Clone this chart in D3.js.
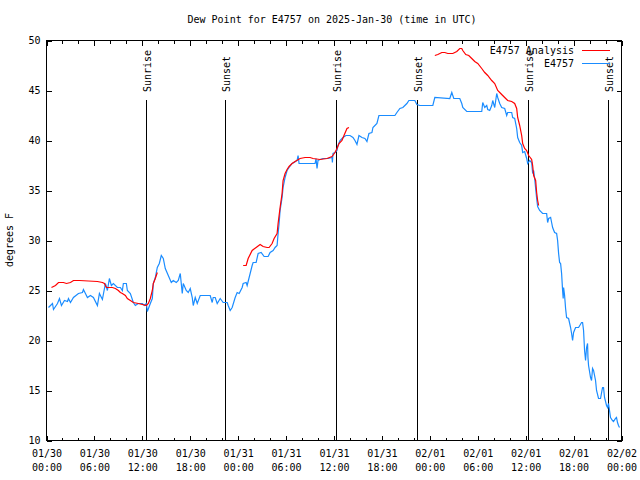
<!DOCTYPE html>
<html><head><meta charset="utf-8">
<script src="https://cdn.jsdelivr.net/npm/d3@7"></script>
<style>
body{margin:0;background:#fff;}
svg text{font-family:"DejaVu Sans Mono",monospace;font-size:10px;fill:#000;}
</style></head><body>
<svg id="c" width="640" height="480"></svg>
<script>
// ---- data (hours after 2025-01-30 00:00 UTC, dew point in °F) ----
const titleText = "Dew Point for E4757 on 2025-Jan-30 (time in UTC)";
const yLabel = "degrees F";
const seriesNames = ["E4757 Analysis", "E4757"];
const seriesColors = ["#ff0000", "#1a8cff"];

const obsHours = [0.25,0.75,0.875,1.375,1.625,1.875,2.25,2.625,2.75,3.0,3.375,4.0,4.5,4.625,4.875,5.125,5.5,5.875,6.375,6.625,7.0,7.375,7.625,7.875,8.125,8.375,8.875,9.25,9.5,9.625,10.0,10.125,10.5,10.875,11.125,11.5,12.0,12.25,12.5,12.625,13.0,13.25,13.375,13.625,13.875,14.125,14.375,14.625,14.875,15.25,15.625,15.875,16.25,16.5,16.75,17.0,17.125,17.5,17.75,18.0,18.25,18.375,18.625,18.875,19.25,19.875,20.5,20.75,20.875,21.125,21.375,21.75,22.125,22.625,22.75,23.0,23.25,23.625,23.875,24.125,24.5,24.625,25.0,25.125,25.375,25.75,25.875,26.25,26.5,26.875,27.25,27.75,28.0,28.375,28.625,28.875,29.0,29.125,29.25,29.5,29.625,29.875,30.125,30.375,30.75,31.0,31.375,31.5,31.625,32.625,33.625,33.75,33.875,34.0,34.25,34.625,35.25,35.75,35.8,35.875,36.125,36.375,36.5,36.75,37.125,37.5,38.0,38.375,38.625,38.875,39.125,39.5,39.875,40.125,40.375,40.75,40.875,41.375,41.625,42.625,43.625,43.875,44.25,44.625,45.125,45.375,46.125,46.375,46.75,48.375,48.625,50.5,50.75,51.0,51.75,52.0,52.125,52.625,54.5,54.625,54.875,55.125,55.25,55.5,55.75,55.875,56.125,56.375,56.5,56.75,57.0,57.375,57.625,57.75,58.25,58.375,58.625,58.875,59.0,59.25,59.5,59.625,59.875,60.125,60.25,60.5,60.75,60.875,61.0,61.125,61.25,61.375,61.5,61.75,62.125,62.625,62.75,62.875,63.125,63.25,63.375,63.625,63.875,64.0,64.125,64.25,64.375,64.5,64.625,64.7,64.75,64.875,65.0,65.125,65.375,65.625,65.75,65.875,66.0,66.25,66.625,67.0,67.125,67.25,67.375,67.5,67.625,67.75,67.8,67.875,68.125,68.25,68.375,68.5,68.75,68.875,69.125,69.375,69.625,69.75,69.875,70.125,70.25,70.375,70.625,70.875,71.0,71.25,71.375,71.5,71.625,71.75];
const obsDew = [23.3,23.7,23.1,23.7,24.2,23.5,24.0,23.9,24.2,23.8,24.3,24.7,24.8,25.1,24.7,24.3,24.5,24.3,23.5,24.7,24.1,25.7,25.0,26.2,25.5,25.7,25.3,25.3,25.0,25.7,25.7,25.0,24.7,23.8,23.5,23.7,23.7,23.5,23.7,22.9,23.7,24.2,25.7,26.3,27.3,27.7,28.5,28.2,27.2,26.5,25.8,26.0,25.8,26.0,26.7,24.7,25.7,25.0,24.8,25.2,24.3,23.5,24.3,23.7,24.5,24.5,24.5,23.8,24.3,24.3,23.7,24.2,23.8,23.8,23.5,23.0,23.3,24.3,24.8,24.7,25.3,25.7,25.8,25.5,26.3,27.5,27.8,27.8,28.7,28.8,28.4,28.4,28.8,29.0,29.3,29.5,30.7,31.7,33.0,34.3,35.3,36.3,37.0,37.3,37.7,37.8,38.0,38.5,37.7,37.7,37.7,38.2,37.2,38.0,38.1,38.2,38.2,38.3,37.8,38.7,38.8,39.0,39.5,40.0,40.3,40.5,40.5,40.3,40.0,39.6,40.5,40.3,40.2,39.9,40.7,40.8,41.3,41.7,42.5,42.5,42.5,42.8,43.2,43.3,43.7,44.0,44.0,43.6,43.5,43.5,44.3,44.2,44.8,44.2,44.2,43.7,43.3,42.9,42.9,43.8,43.3,43.5,43.1,43.0,43.5,44.0,43.3,44.7,44.3,43.7,43.3,43.2,42.5,42.8,42.8,42.3,42.2,41.2,40.3,39.8,39.5,38.8,38.9,38.2,37.7,38.0,37.8,36.7,37.0,36.2,35.2,34.2,33.4,33.0,32.7,32.7,31.8,32.2,32.3,31.8,31.3,30.8,30.7,30.0,28.7,27.8,27.7,26.7,25.0,24.2,25.3,24.5,23.2,22.3,22.2,21.3,20.7,20.0,20.8,21.3,21.3,21.8,21.8,21.0,19.0,18.0,19.3,19.7,18.3,17.5,16.3,16.0,17.2,17.0,16.0,15.0,14.2,14.2,15.3,15.3,14.3,13.5,13.3,13.7,12.3,12.0,11.9,12.2,12.3,11.8,11.5,11.3];

// analysis: three separate runs
const anaHours1 = [0.625,1.125,1.5,2.125,2.5,3.0,3.375,4.125,6.375,7.0,7.25,7.5,8.25,8.625,9.0,9.25,9.5,9.875,10.125,10.5,10.875,11.5,12.0,12.5,12.75,13.0,13.25,13.375,13.625,13.875];
const anaDew1   = [25.3,25.5,25.8,25.8,25.7,25.8,26.0,26.0,25.9,25.8,25.7,25.3,25.3,25.2,25.0,24.8,24.7,24.5,24.2,24.0,23.8,23.7,23.6,23.5,23.7,24.2,25.0,25.7,26.2,26.8];
const anaHours2 = [24.625,25.0,25.25,25.75,26.25,26.75,27.125,27.625,27.875,28.25,28.5,28.875,29.0,29.25,29.5,29.625,29.875,30.125,30.375,30.75,31.125,31.75,32.375,33.0,33.375,34.25,35.125,35.75,36.125,36.375,36.625,37.0,37.25,37.625,37.875];
const anaDew2   = [27.5,27.5,28.2,29.0,29.3,29.6,29.4,29.3,29.3,29.7,30.2,30.7,31.7,33.3,34.7,36.0,36.7,37.1,37.4,37.7,37.9,38.2,38.3,38.3,38.2,38.1,38.2,38.4,38.8,39.2,39.7,40.0,40.5,41.2,41.3];
const anaHours3 = [48.625,49.0,49.5,49.875,50.25,50.875,51.375,51.75,52.0,52.125,52.5,52.875,53.25,53.625,54.0,54.5,54.875,55.25,55.75,56.125,56.5,56.875,57.125,57.5,57.75,58.25,58.625,58.875,59.0,59.25,59.5,59.625,59.875,60.125,60.375,60.75,60.875,61.0,61.25,61.375,61.5,61.625];
const anaDew3   = [48.5,48.6,48.8,48.8,48.7,48.7,48.9,49.2,49.2,49.0,48.6,48.5,48.2,47.9,47.7,47.2,46.8,46.5,46.0,45.7,45.0,44.7,44.5,44.2,44.0,43.9,43.7,43.2,42.3,41.5,40.5,39.7,39.2,39.0,38.5,38.1,37.5,36.5,36.0,34.8,34.0,33.5];

const sunHours  = [12.5, 22.4, 36.25, 46.4, 60.25, 70.35];
const sunLabels = ["Sunrise","Sunset","Sunrise","Sunset","Sunrise","Sunset"];
const yTicks = [10,15,20,25,30,35,40,45,50];

// ---- layout ----
const svg = d3.select("#c");
const L = 46.5, R = 621.5, T = 40.5, B = 440.5;
const t0 = Date.UTC(2025,0,30,0,0);
const toDate = h => new Date(t0 + h*3600e3);
const x = d3.scaleUtc().domain([toDate(0), toDate(72)]).range([L, R]);
const y = d3.scaleLinear().domain([10, 50]).range([B, T]);

// title
svg.append("text").attr("x", 332).attr("y", 23).attr("text-anchor","middle").text(titleText);
// y label
svg.append("text").attr("transform","translate(13,240) rotate(-90)").attr("text-anchor","middle").text(yLabel);

// axes
const ax = svg.append("g");
const xb = ax.append("g").attr("transform",`translate(0,${B})`)
  .call(d3.axisBottom(x).ticks(d3.utcHour.every(6)).tickSize(-5).tickPadding(7));
xb.selectAll("text").each(function(d){
  const t = d3.select(this); t.text(null).attr("dy", null);
  t.append("tspan").attr("x",0).attr("y",16).text(d3.utcFormat("%m/%d")(d));
  t.append("tspan").attr("x",0).attr("y",30).text(d3.utcFormat("%H:%M")(d));
});
// minor ticks (every 2 h)
const minor = x.ticks(d3.utcHour.every(2));
ax.append("g").attr("transform",`translate(0,${B})`)
  .call(d3.axisBottom(x).tickValues(minor).tickSize(-3).tickFormat(""));
ax.append("g").attr("transform",`translate(0,${T})`)
  .call(d3.axisTop(x).tickValues(minor).tickSize(-3).tickFormat(""));
ax.append("g").attr("transform",`translate(0,${T})`)
  .call(d3.axisTop(x).ticks(d3.utcHour.every(6)).tickSize(-5).tickFormat(""));
ax.append("g").attr("transform",`translate(${L},0)`)
  .call(d3.axisLeft(y).tickValues(yTicks).tickSize(-5).tickPadding(6).tickFormat(d3.format("d")));
ax.append("g").attr("transform",`translate(${R},0)`)
  .call(d3.axisRight(y).tickValues(yTicks).tickSize(-5).tickFormat(""));
ax.selectAll(".domain").remove();
ax.selectAll("line").attr("stroke","#000").attr("shape-rendering","crispEdges");
ax.selectAll("text").attr("font-family","DejaVu Sans Mono").attr("font-size",10).attr("fill","#000");

// border
svg.append("rect").attr("x",L).attr("y",T).attr("width",R-L).attr("height",B-T)
  .attr("fill","none").attr("stroke","#000").attr("shape-rendering","crispEdges");

// sun lines
const sun = svg.append("g");
sunHours.forEach((h,i)=>{
  const xp = Math.round(x(toDate(h))) + 0.5;
  sun.append("line").attr("x1",xp).attr("x2",xp).attr("y1",100).attr("y2",B)
    .attr("stroke","#000").attr("shape-rendering","crispEdges");
  sun.append("text").attr("transform",`translate(${xp+4},92) rotate(-90)`)
    .attr("text-anchor","start").text(sunLabels[i]);
});

// data lines
const line = d3.line().x(d=>x(toDate(d[0]))).y(d=>y(d[1]));
const zip = (a,b)=>a.map((v,i)=>[v,b[i]]);
const g = svg.append("g");
g.append("path").datum(zip(obsHours,obsDew)).attr("d",line)
  .attr("fill","none").attr("stroke",seriesColors[1]).attr("stroke-width",1.2);
[[anaHours1,anaDew1],[anaHours2,anaDew2],[anaHours3,anaDew3]].forEach(([h,v])=>{
  g.append("path").datum(zip(h,v)).attr("d",line)
    .attr("fill","none").attr("stroke",seriesColors[0]).attr("stroke-width",1.2);
});

// legend
const lg = svg.append("g");
seriesNames.forEach((n,i)=>{
  const yy = 50 + i*13;
  lg.append("text").attr("x",574).attr("y",yy).attr("dy","0.35em").attr("text-anchor","end").text(n);
  lg.append("line").attr("x1",582).attr("x2",610).attr("y1",yy+0.5).attr("y2",yy+0.5)
    .attr("stroke",seriesColors[i]).attr("shape-rendering","crispEdges");
});
</script>
</body></html>
